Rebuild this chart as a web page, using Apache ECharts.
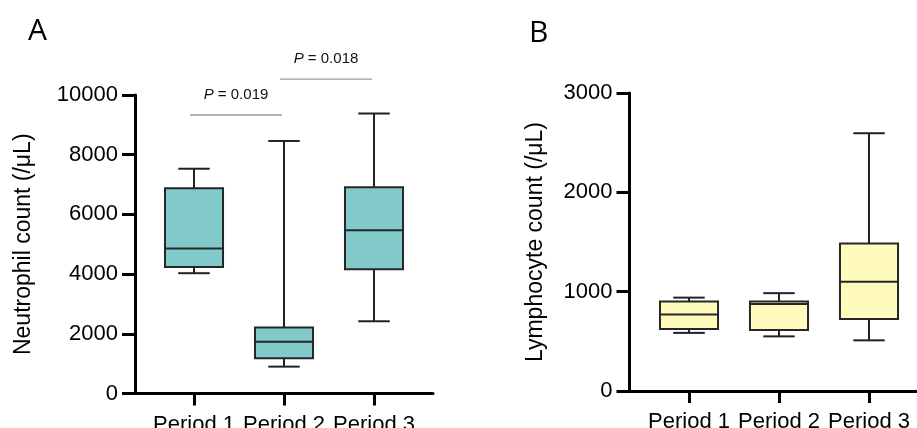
<!DOCTYPE html>
<html>
<head>
<meta charset="utf-8">
<script src="https://cdn.jsdelivr.net/npm/echarts@6/dist/echarts.min.js"></script>
<style>
html,body{margin:0;padding:0;background:#fff;}
#chart{width:917px;height:428px;}
</style>
</head>
<body>
<div id="chart"></div>
<script>
// ---- data ----
const categories = ['Period 1', 'Period 2', 'Period 3'];

const neutroMin    = [4030,  900, 2420];
const neutroQ1     = [4240, 1180, 4160];
const neutroMedian = [4860, 1730, 5470];
const neutroQ3     = [6880, 2210, 6910];
const neutroMax    = [7530, 8460, 9380];

const lymphoMin    = [585,  550,  510];
const lymphoQ1     = [625,  615,  725];
const lymphoMedian = [770,  875, 1100];
const lymphoQ3     = [900,  900, 1485];
const lymphoMax    = [940,  985, 2595];

const neutroAxisMax = 10000, neutroAxisStep = 2000;
const lymphoAxisMax = 3000,  lymphoAxisStep = 1000;

// significance brackets (category index from/to, bracket level, p value)
const pFrom   = [0, 1];
const pTo     = [1, 2];
const pLevel  = [9330, 10530];
const pValues = ['0.019', '0.018'];

// ---- chart ----
const FONT = '"Liberation Sans", Arial, Helvetica, sans-serif';
const chart = echarts.init(document.getElementById('chart'), null, {renderer: 'canvas'});

function boxData(mn, q1, md, q3, mx) {
  return categories.map((c, i) => [i, mn[i], q1[i], md[i], q3[i], mx[i]]);
}

function boxRender(fill) {
  return function (params, api) {
    const x = api.value(0);
    const pMin = api.coord([x, api.value(1)]);
    const pQ1 = api.coord([x, api.value(2)]);
    const pMd = api.coord([x, api.value(3)]);
    const pQ3 = api.coord([x, api.value(4)]);
    const pMax = api.coord([x, api.value(5)]);
    const band = api.size([1, 0])[0];
    const bw = band * 0.645, cw = band * 0.35;
    const cx = pMd[0];
    const ls = {stroke: '#222', lineWidth: 2};
    return {
      type: 'group',
      children: [
        {type: 'line', shape: {x1: cx, y1: pMax[1], x2: cx, y2: pQ3[1]}, style: ls},
        {type: 'line', shape: {x1: cx, y1: pQ1[1], x2: cx, y2: pMin[1]}, style: ls},
        {type: 'line', shape: {x1: cx - cw / 2, y1: pMax[1], x2: cx + cw / 2, y2: pMax[1]}, style: ls},
        {type: 'line', shape: {x1: cx - cw / 2, y1: pMin[1], x2: cx + cw / 2, y2: pMin[1]}, style: ls},
        {type: 'rect', shape: {x: cx - bw / 2, y: pQ3[1], width: bw, height: pQ1[1] - pQ3[1]},
          style: {fill: fill, stroke: '#262626', lineWidth: 2}},
        {type: 'line', shape: {x1: cx - bw / 2, y1: pMd[1], x2: cx + bw / 2, y2: pMd[1]}, style: {stroke: '#262626', lineWidth: 2}}
      ]
    };
  };
}

function bracketRender(params, api) {
  const a = api.coord([api.value(0), api.value(2)]);
  const b = api.coord([api.value(1), api.value(2)]);
  const x1 = a[0] - 4, x2 = b[0] - 2;
  return {
    type: 'group',
    children: [
      {type: 'line', shape: {x1: x1, y1: a[1], x2: x2, y2: a[1]}, style: {stroke: '#9a9a9a', lineWidth: 1.3}},
      {type: 'text', x: (x1 + x2) / 2, y: a[1] - 20,
        style: {
          text: '{i|P}{n| = ' + pValues[params.dataIndex] + '}',
          align: 'center', verticalAlign: 'middle',
          fontSize: 15, fontFamily: FONT, fill: '#111',
          rich: {
            i: {fontStyle: 'italic', fontSize: 15, fontFamily: FONT, fill: '#111'},
            n: {fontSize: 15, fontFamily: FONT, fill: '#111'}
          }
        }}
    ]
  };
}

const blk = '#000';
function outerX(gi) {
  return {gridIndex: gi, type: 'value', min: 0, max: 1,
    axisLine: {show: true, lineStyle: {color: blk, width: 3}},
    axisTick: {show: false}, axisLabel: {show: false}, splitLine: {show: false}};
}
function innerX(gi) {
  return {gridIndex: gi, type: 'category', data: categories, boundaryGap: true,
    axisLine: {show: false},
    axisTick: {show: true, alignWithLabel: true, length: 12, lineStyle: {color: blk, width: 3}},
    axisLabel: {show: true, interval: 0, margin: 20, color: blk, fontSize: 22, fontFamily: FONT},
    splitLine: {show: false}};
}
function outerY(gi, max, step, name, gap) {
  return {gridIndex: gi, type: 'value', min: 0, max: max, interval: step,
    name: name, nameLocation: 'middle', nameGap: gap, nameRotate: 90,
    nameTextStyle: {fontSize: 23, fontFamily: FONT, color: blk},
    axisLine: {show: true, lineStyle: {color: blk, width: 3}},
    axisTick: {show: true, length: 13, lineStyle: {color: blk, width: 3}},
    axisLabel: {margin: 17, fontSize: 22, fontFamily: FONT, color: blk,
      formatter: function (v) { return String(v); }},
    splitLine: {show: false}};
}
function innerY(gi, max) {
  return {gridIndex: gi, type: 'value', min: 0, max: max, show: false, splitLine: {show: false}};
}
function grid(l, t, w, h) {
  return {left: l, top: t, width: w, height: h, containLabel: false, outerBoundsMode: 'none'};
}

const option = {
  animation: false,
  backgroundColor: '#fff',
  title: [
    {text: 'A', left: 23, top: 11, textStyle: {fontSize: 30, fontWeight: 'normal', fontFamily: '"Open Sans", Arial, sans-serif', color: blk}},
    {text: 'B', left: 524, top: 13, textStyle: {fontSize: 30, fontWeight: 'normal', fontFamily: '"Open Sans", Arial, sans-serif', color: blk}}
  ],
  grid: [
    grid(135, 95, 298, 298.5),
    grid(149, 95, 270, 298.5),
    grid(629.5, 93, 298, 298),
    grid(644, 93, 270, 298)
  ],
  xAxis: [outerX(0), innerX(1), outerX(2), innerX(3)],
  yAxis: [
    outerY(0, neutroAxisMax, neutroAxisStep, 'Neutrophil count (/μL)', 100),
    innerY(1, neutroAxisMax),
    outerY(2, lymphoAxisMax, lymphoAxisStep, 'Lymphocyte count (/μL)', 82),
    innerY(3, lymphoAxisMax)
  ],
  series: [
    {type: 'custom', name: 'Neutrophil', xAxisIndex: 1, yAxisIndex: 1, clip: false,
      renderItem: boxRender('#82c9c9'),
      encode: {x: 0, y: [1, 2, 3, 4, 5]},
      data: boxData(neutroMin, neutroQ1, neutroMedian, neutroQ3, neutroMax)},
    {type: 'custom', name: 'Lymphocyte', xAxisIndex: 3, yAxisIndex: 3, clip: false,
      renderItem: boxRender('#fffbbd'),
      encode: {x: 0, y: [1, 2, 3, 4, 5]},
      data: boxData(lymphoMin, lymphoQ1, lymphoMedian, lymphoQ3, lymphoMax)},
    {type: 'custom', name: 'P values', xAxisIndex: 1, yAxisIndex: 1, clip: false,
      renderItem: bracketRender,
      encode: {x: [0, 1], y: 2},
      data: pFrom.map((f, i) => [f, pTo[i], pLevel[i]])}
  ]
};
chart.setOption(option);
</script>
</body>
</html>
